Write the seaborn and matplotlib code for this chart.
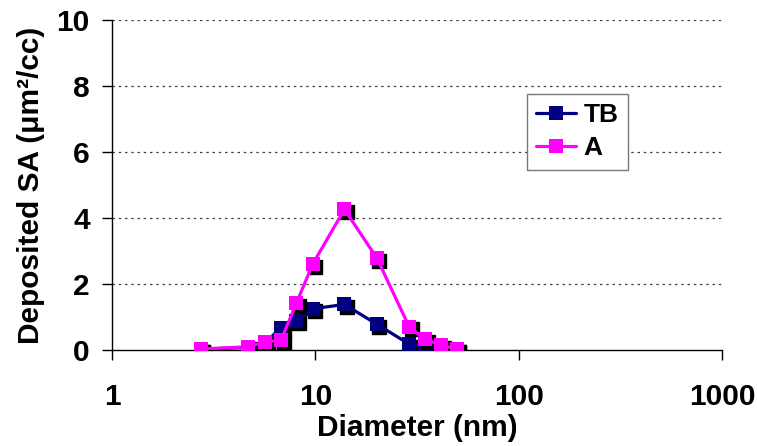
import matplotlib
matplotlib.use("Agg")
import matplotlib.pyplot as plt
import matplotlib.transforms as mtransforms
from matplotlib.ticker import FixedLocator, NullLocator
import seaborn as sns
import pandas as pd

diameter = [2.73, 4.69, 5.67, 6.78, 8.06, 9.7, 13.9, 20.1, 28.9, 34.7, 41.6, 49.5]
tb = [0.02, 0.08, 0.22, 0.68, 0.88, 1.25, 1.38, 0.78, 0.18, 0.10, 0.08, 0.02]
a = [0.03, 0.10, 0.25, 0.30, 1.41, 2.60, 4.26, 2.78, 0.71, 0.32, 0.15, 0.03]
series_names = ["TB", "A"]
colors = {"TB": "#000080", "A": "#FF00FF"}
xticks = [1, 10, 100, 1000]
xtick_labels = ["1", "10", "100", "1000"]
yticks = [0, 2, 4, 6, 8, 10]

df = pd.DataFrame({
    "Diameter": diameter * 2,
    "SA": tb + a,
    "Series": ["TB"] * len(tb) + ["A"] * len(a),
})

sns.set_theme(style="white")
plt.rcParams["font.family"] = ["Liberation Sans", "DejaVu Sans"]
plt.rcParams["font.weight"] = "bold"
plt.rcParams["text.color"] = "black"
plt.rcParams["axes.labelcolor"] = "black"
plt.rcParams["xtick.color"] = "black"
plt.rcParams["ytick.color"] = "black"

fig = plt.figure(figsize=(7.57, 4.46), dpi=100)
ax = fig.add_axes([112 / 757, 1 - 350 / 446, 610 / 757, 330 / 446])
ax.set_xscale("log")

shadow = mtransforms.offset_copy(ax.transData, fig=fig, x=2.5, y=-2.5, units="dots")
for i, name in enumerate(series_names):
    sub = df[df["Series"] == name]
    ax.plot(sub["Diameter"], sub["SA"], linestyle="none", marker="s",
            markersize=9.5, color="black", transform=shadow, zorder=2 + 2 * i)
    sns.lineplot(data=sub, x="Diameter", y="SA", color=colors[name], marker="s",
                 markersize=9.5, markeredgewidth=0, linewidth=2.3, label=name,
                 ax=ax, zorder=3 + 2 * i, sort=True)

ax.set_xlim(1, 1000)
ax.set_ylim(0, 10)
ax.xaxis.set_major_locator(FixedLocator(xticks))
ax.xaxis.set_minor_locator(NullLocator())
ax.set_xticklabels(xtick_labels)
ax.set_yticks(yticks)
ax.set_yticklabels([str(v) for v in yticks])

for y in yticks[1:]:
    ax.axhline(y, color="#444444", linestyle=(0, (2, 3)), linewidth=0.9, zorder=1)

for s in ["top", "right"]:
    ax.spines[s].set_visible(False)
for s in ["left", "bottom"]:
    ax.spines[s].set_color("black")
    ax.spines[s].set_linewidth(1.0)

ax.tick_params(axis="x", direction="out", length=7, width=1, color="black",
               labelsize=21.5, labelcolor="black", pad=17, bottom=True)
ax.tick_params(axis="y", direction="out", length=7, width=1, color="black",
               labelsize=21.5, labelcolor="black", pad=9, left=True)
for lab in ax.get_xticklabels() + ax.get_yticklabels():
    lab.set_fontweight("bold")

ax.set_xlabel("Diameter (nm)", fontsize=21.5, fontweight="bold", labelpad=2, color="black")
ax.set_ylabel("Deposited SA (μm²/cc)", fontsize=21.5, fontweight="bold", labelpad=8, color="black")

leg = ax.legend(loc="upper left", bbox_to_anchor=(0.68, 0.776), frameon=True,
                fancybox=False, edgecolor="#777777", framealpha=1,
                prop={"weight": "bold", "size": 19}, handlelength=1.5,
                handletextpad=0.3, borderpad=0.35, labelspacing=0.35,
                borderaxespad=0)
leg.get_frame().set_linewidth(1.0)
leg.set_zorder(10)
for t in leg.get_texts():
    t.set_color("black")

fig.savefig("out.png", dpi=100)
